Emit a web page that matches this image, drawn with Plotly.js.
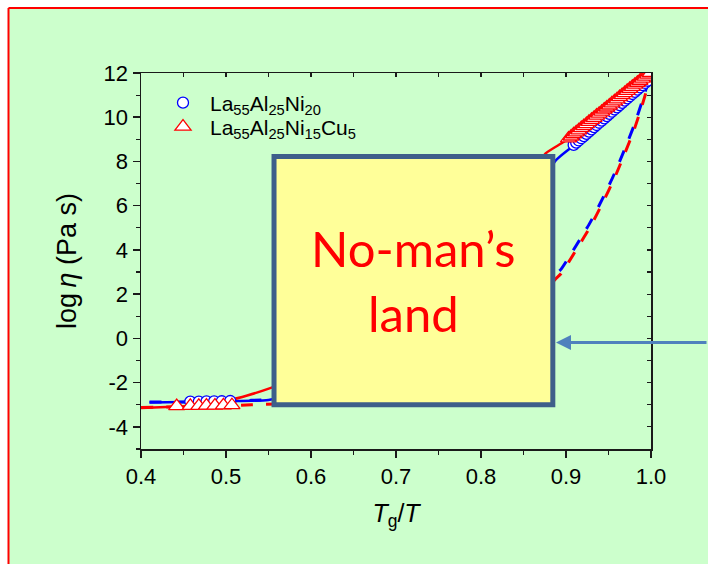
<!DOCTYPE html>
<html>
<head>
<meta charset="utf-8">
<script src="https://cdn.plot.ly/plotly-3.0.1.min.js"></script>
<style>
  html, body { margin: 0; padding: 0; background: #ffffff; }
  #chart { width: 708px; height: 564px; }
</style>
</head>
<body>
<div id="chart"></div>
<script>
// Viscosity of La-based glass-forming melts vs. reduced inverse temperature

// Measured points, La55Al25Ni20 (circles)
const niLowX  = [0.458, 0.468, 0.477, 0.486, 0.495, 0.505];
const niLowY  = [-2.86, -2.86, -2.85, -2.85, -2.84, -2.83];
const niHighX = [0.909, 0.912, 0.915, 0.918, 0.921, 0.924, 0.927, 0.930, 0.933, 0.936,
                 0.939, 0.942, 0.945, 0.948, 0.951, 0.954, 0.957, 0.960, 0.963, 0.966,
                 0.969, 0.972, 0.975, 0.978, 0.981, 0.984, 0.987, 0.990, 0.993, 0.996];
const niHighY = [8.75, 8.85, 8.95, 9.05, 9.15, 9.25, 9.35, 9.45, 9.55, 9.65,
                 9.75, 9.85, 9.95, 10.05, 10.15, 10.25, 10.35, 10.45, 10.55, 10.65,
                 10.75, 10.85, 10.95, 11.05, 11.15, 11.25, 11.35, 11.45, 11.55, 11.65];

// Measured points, La55Al25Ni15Cu5 (triangles)
const cuLowX  = [0.442, 0.458, 0.468, 0.477, 0.487, 0.497, 0.507];
const cuLowY  = [-3.06, -3.05, -3.05, -3.04, -3.04, -3.03, -3.02];
const cuHighX = [0.903, 0.906, 0.909, 0.912, 0.915, 0.918, 0.921, 0.924, 0.927, 0.930,
                 0.933, 0.936, 0.939, 0.942, 0.945, 0.948, 0.951, 0.954, 0.957, 0.960,
                 0.963, 0.966, 0.969, 0.972, 0.975, 0.978, 0.981, 0.984, 0.987, 0.990,
                 0.993, 0.996, 0.999];
const cuHighY = [9.04, 9.13, 9.23, 9.32, 9.41, 9.51, 9.60, 9.69, 9.79, 9.88,
                 9.97, 10.07, 10.16, 10.25, 10.35, 10.44, 10.53, 10.63, 10.72, 10.81,
                 10.91, 11.00, 11.09, 11.19, 11.28, 11.37, 11.47, 11.56, 11.65, 11.75,
                 11.84, 11.93, 12.00];

// Fitted curves (solid)
const niFitX = [0.41, 0.45, 0.50, 0.55, 0.60, 0.65, 0.70, 0.75, 0.80, 0.85, 0.888, 0.906, 0.93, 0.95, 0.97, 0.99, 1.0];
const niFitY = [-2.90, -2.88, -2.84, -2.78, -2.40, -1.60, -0.40, 1.20, 3.20, 5.70, 8.05, 8.63, 9.35, 10.00, 10.68, 11.35, 11.70];
const cuFitX = [0.40, 0.43, 0.466, 0.505, 0.525, 0.552, 0.60, 0.65, 0.70, 0.75, 0.80, 0.85, 0.876, 0.898, 0.92, 0.94, 0.96, 0.98, 1.0];
const cuFitY = [-3.15, -3.10, -3.03, -2.78, -2.58, -2.25, -1.50, -0.30, 1.20, 2.90, 4.80, 7.00, 8.36, 8.90, 9.55, 10.18, 10.80, 11.40, 12.00];

// Alternative model curves (dashed)
const niModX = [0.41, 0.45, 0.50, 0.53, 0.56, 0.60, 0.65, 0.70, 0.75, 0.80, 0.85, 0.888, 0.894, 0.912, 0.929, 0.943, 0.957, 0.969, 0.980, 0.989, 1.0];
const niModY = [-2.88, -2.87, -2.85, -2.80, -2.76, -2.70, -2.50, -2.10, -1.40, -0.30, 1.30, 2.90, 3.12, 4.20, 5.28, 6.32, 7.45, 8.55, 9.62, 10.65, 12.00];
const cuModX = [0.40, 0.45, 0.50, 0.53, 0.56, 0.60, 0.65, 0.70, 0.75, 0.80, 0.85, 0.888, 0.894, 0.912, 0.929, 0.943, 0.957, 0.969, 0.980, 0.989, 1.0];
const cuModY = [-3.12, -3.09, -3.05, -3.00, -2.96, -2.88, -2.70, -2.32, -1.65, -0.60, 1.05, 2.70, 2.92, 4.00, 5.08, 6.12, 7.25, 8.35, 9.42, 10.47, 11.90];

// Axis tick labels (plain hyphen minus)
const xTicks = [0.4, 0.5, 0.6, 0.7, 0.8, 0.9, 1.0];
const xTickText = ['0.4', '0.5', '0.6', '0.7', '0.8', '0.9', '1.0'];
const yTicks = [-4, -2, 0, 2, 4, 6, 8, 10, 12];
const yTickText = ['-4', '-2', '0', '2', '4', '6', '8', '10', '12'];

const legendNames = [
  'La<sub>55</sub>Al<sub>25</sub>Ni<sub>20</sub>',
  'La<sub>55</sub>Al<sub>25</sub>Ni<sub>15</sub>Cu<sub>5</sub>'
];

const BLUE = '#0000ff';
const RED = '#ff0000';
const FONT = "'Liberation Sans', Arial, sans-serif";

const traces = [
  { x: niModX, y: niModY, mode: 'lines', showlegend: false, hoverinfo: 'skip',
    line: { color: BLUE, width: 3, dash: '12px,13px', shape: 'spline', smoothing: 0.6 } },
  { x: cuModX, y: cuModY, mode: 'lines', showlegend: false, hoverinfo: 'skip',
    line: { color: RED, width: 3, dash: '12px,13px', shape: 'spline', smoothing: 0.6 } },
  { x: niFitX, y: niFitY, mode: 'lines', showlegend: false, hoverinfo: 'skip',
    line: { color: BLUE, width: 2.5, shape: 'spline', smoothing: 0.6 } },
  { x: cuFitX, y: cuFitY, mode: 'lines', showlegend: false, hoverinfo: 'skip',
    line: { color: RED, width: 2.5, shape: 'spline', smoothing: 0.6 } },
  { x: niLowX.concat([null], niHighX), y: niLowY.concat([null], niHighY),
    mode: 'markers', name: legendNames[0], legend: 'legend',
    marker: { symbol: 'circle', size: 11, color: '#ffffff', line: { color: BLUE, width: 1.3 } } },
  { x: cuLowX.concat([null], cuHighX), y: cuLowY.concat([null], cuHighY),
    mode: 'markers', name: legendNames[1], legend: 'legend2',
    marker: { symbol: 'triangle-up', size: 14, color: '#ffffff', line: { color: RED, width: 1.3 } } },
  // carrier for the inner tick marks on the top and right frame edges
  { x: [], y: [], xaxis: 'x2', yaxis: 'y2', showlegend: false, hoverinfo: 'skip' }
];

// pixel -> paper helpers for decorations outside the plot area
const L = 141, R = 651, T = 73, B = 449;
const px = v => (v - L) / (R - L);
const py = v => (B - v) / (B - T);

const axisCommon = {
  showgrid: false, zeroline: false, tickmode: 'array',
  showline: true, mirror: true, linecolor: '#1a1a1a', linewidth: 1.5,
  ticks: 'outside', ticklen: 7, tickwidth: 1.5, tickcolor: '#1a1a1a',
  tickfont: { family: FONT, size: 22, color: '#000' }
};

const legendCommon = {
  xanchor: 'left', yanchor: 'middle', itemwidth: 44,
  bgcolor: 'rgba(0,0,0,0)', borderwidth: 0,
  font: { family: FONT, size: 21, color: '#000' },
  itemsizing: 'trace'
};

const layout = {
  width: 708, height: 564,
  margin: { l: L, r: 708 - R, t: T, b: 564 - B, pad: 0 },
  paper_bgcolor: '#ccffcc',
  plot_bgcolor: '#ccffcc',
  font: { family: FONT, color: '#000' },
  showlegend: true,
  legend: Object.assign({}, legendCommon, { x: px(156), y: py(103) }),
  legend2: Object.assign({}, legendCommon, { x: px(156), y: py(127) }),
  xaxis: Object.assign({}, axisCommon, {
    range: [0.4, 1.0], tickvals: xTicks, ticktext: xTickText,
    minor: { ticks: 'outside', dtick: 0.05, tick0: 0.4, ticklen: 4, tickwidth: 1.2, tickcolor: '#1a1a1a' },
    title: { text: '<i>T</i><sub>g</sub>/<i>T</i>', font: { family: FONT, size: 25 }, standoff: 16 }
  }),
  yaxis: Object.assign({}, axisCommon, {
    range: [-5, 12], tickvals: yTicks, ticktext: yTickText,
    minor: { ticks: 'outside', dtick: 1, tick0: 0, ticklen: 4, tickwidth: 1.2, tickcolor: '#1a1a1a' },
    title: { text: 'log\u2009<i>η</i> (Pa s)', font: { family: FONT, size: 27 }, standoff: 19 }
  }),
  xaxis2: {
    overlaying: 'x', side: 'top', range: [0.4, 1.0], dtick: 0.05, tick0: 0.4,
    ticks: 'inside', ticklen: 4, tickwidth: 1.2, tickcolor: '#1a1a1a',
    showticklabels: false, showgrid: false, zeroline: false, showline: false
  },
  yaxis2: {
    overlaying: 'y', side: 'right', range: [-5, 12], dtick: 1, tick0: 0,
    ticks: 'inside', ticklen: 4, tickwidth: 1.2, tickcolor: '#1a1a1a',
    showticklabels: false, showgrid: false, zeroline: false, showline: false
  },
  shapes: [
    // the no-man's-land panel over the inaccessible temperature window
    { type: 'rect', xref: 'x', yref: 'y', layer: 'above',
      x0: 0.5565, x1: 0.8845, y0: -3.0, y1: 8.22,
      fillcolor: '#ffff99', line: { color: '#3e5f8a', width: 5 } },
    // white page margin and red frame around the slide panel
    { type: 'rect', xref: 'paper', yref: 'paper', x0: px(-10), x1: px(8), y0: py(600), y1: py(-10),
      fillcolor: '#ffffff', line: { width: 0 } },
    { type: 'rect', xref: 'paper', yref: 'paper', x0: px(-10), x1: px(720), y0: py(7.5), y1: py(-10),
      fillcolor: '#ffffff', line: { width: 0 } },
    { type: 'line', xref: 'paper', yref: 'paper', x0: px(8.5), x1: px(720), y0: py(8), y1: py(8),
      line: { color: '#ff0000', width: 2 } },
    { type: 'line', xref: 'paper', yref: 'paper', x0: px(8.5), x1: px(8.5), y0: py(8), y1: py(600),
      line: { color: '#ff0000', width: 2 } }
  ],
  annotations: [
    { xref: 'x', yref: 'y', x: 0.7205, y: 4.07, text: 'No-man’s', showarrow: false,
      font: { family: 'Lato, sans-serif', size: 49, color: '#ff0000' } },
    { xref: 'x', yref: 'y', x: 0.7205, y: 1.15, text: 'land', showarrow: false,
      font: { family: 'Lato, sans-serif', size: 49, color: '#ff0000' } },
    { xref: 'x', yref: 'y', x: 0.8882, y: -0.19, text: '', showarrow: true,
      ax: 160, ay: 0, arrowhead: 2, arrowsize: 1, arrowwidth: 3, arrowcolor: '#4f81bd', standoff: 0 }
  ]
};

Plotly.newPlot('chart', traces, layout, { displayModeBar: false, staticPlot: true });
</script>
</body>
</html>
